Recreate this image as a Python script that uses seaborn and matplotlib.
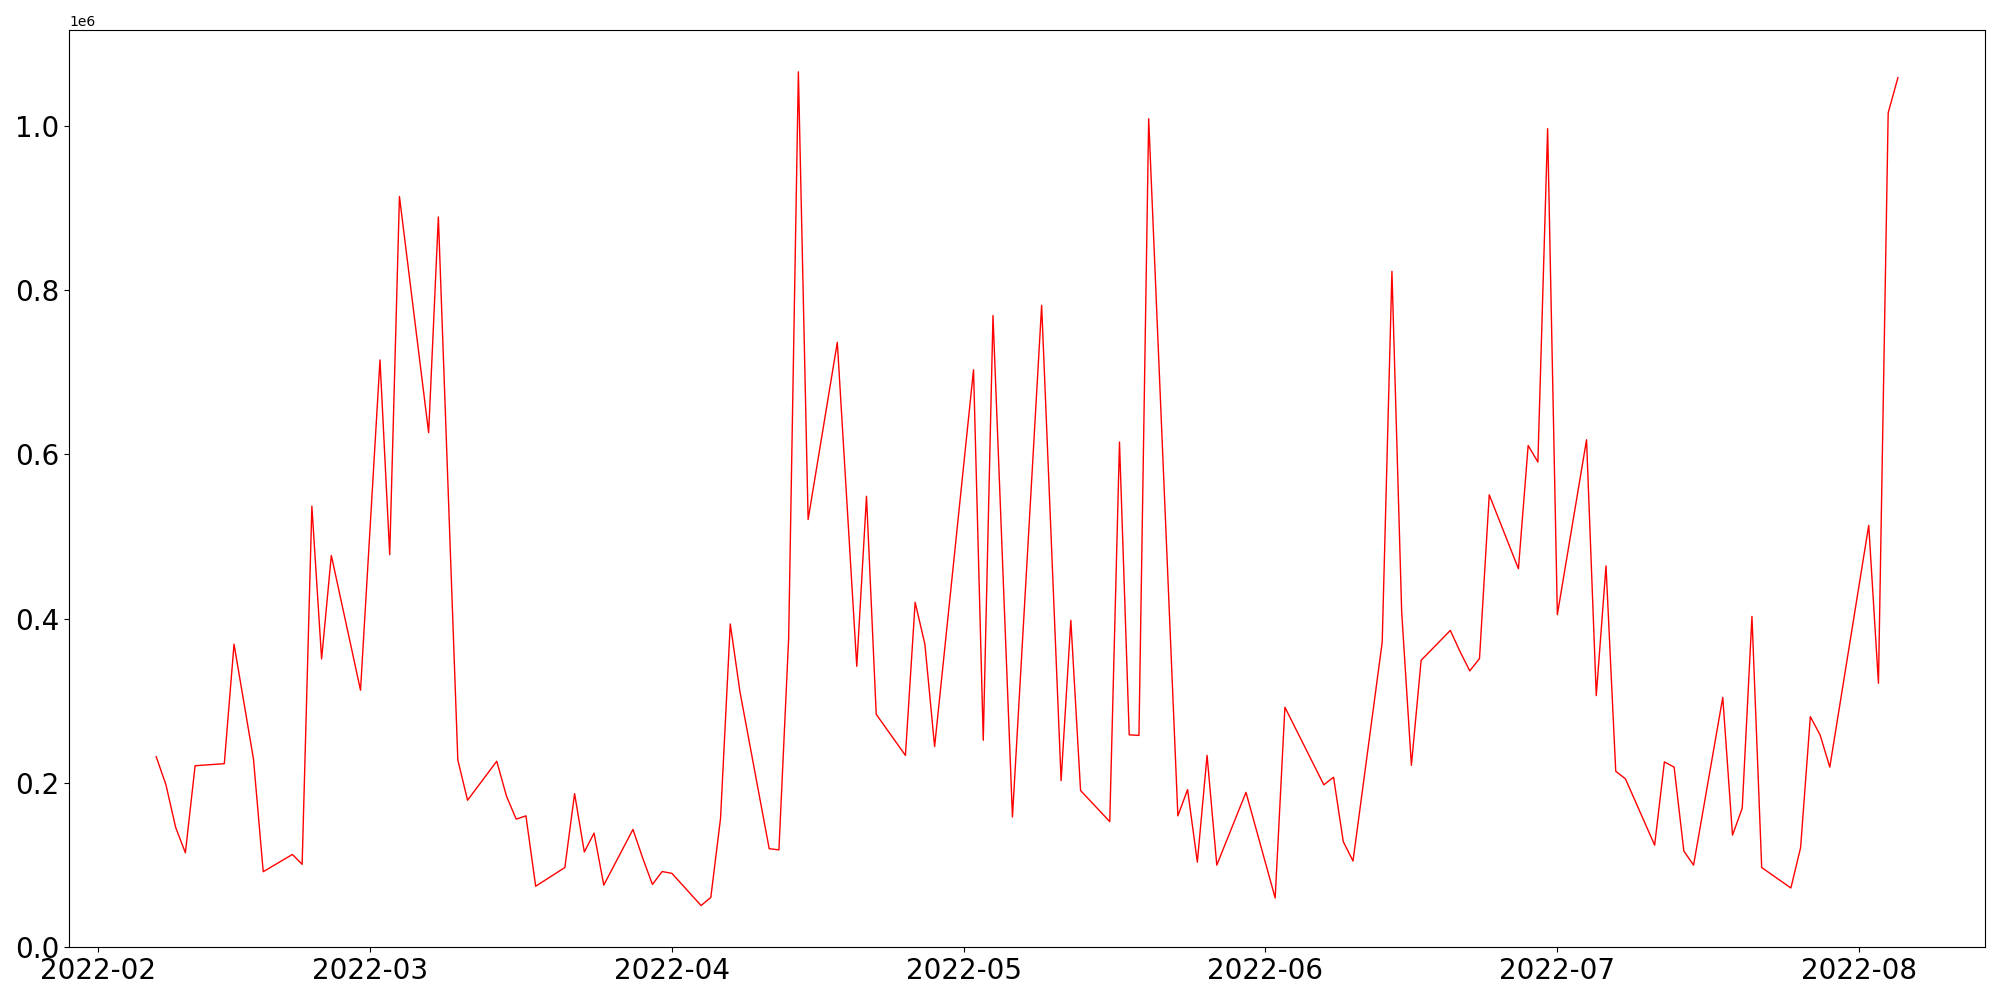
import numpy as np
import pandas as pd
import matplotlib
matplotlib.use("Agg")
import matplotlib.pyplot as plt
import seaborn as sns

# trading days and values (millions)
dates = [
    "2022-02-07", "2022-02-08", "2022-02-09", "2022-02-10", "2022-02-11",
    "2022-02-14", "2022-02-15", "2022-02-17", "2022-02-18",
    "2022-02-21", "2022-02-22", "2022-02-23", "2022-02-24", "2022-02-25",
    "2022-02-28", "2022-03-02", "2022-03-03", "2022-03-04",
    "2022-03-07", "2022-03-08", "2022-03-10", "2022-03-11",
    "2022-03-14", "2022-03-15", "2022-03-16", "2022-03-17", "2022-03-18",
    "2022-03-21", "2022-03-22", "2022-03-23", "2022-03-24", "2022-03-25",
    "2022-03-28", "2022-03-29", "2022-03-30", "2022-03-31", "2022-04-01",
    "2022-04-04", "2022-04-05", "2022-04-06", "2022-04-07", "2022-04-08",
    "2022-04-11", "2022-04-12", "2022-04-13", "2022-04-14", "2022-04-15",
    "2022-04-18", "2022-04-20", "2022-04-21", "2022-04-22",
    "2022-04-25", "2022-04-26", "2022-04-27", "2022-04-28",
    "2022-05-02", "2022-05-03", "2022-05-04", "2022-05-06",
    "2022-05-09", "2022-05-11", "2022-05-12", "2022-05-13",
    "2022-05-16", "2022-05-17", "2022-05-18", "2022-05-19", "2022-05-20",
    "2022-05-23", "2022-05-24", "2022-05-25", "2022-05-26", "2022-05-27",
    "2022-05-30", "2022-06-02", "2022-06-03",
    "2022-06-07", "2022-06-08", "2022-06-09", "2022-06-10",
    "2022-06-13", "2022-06-14", "2022-06-15", "2022-06-16", "2022-06-17",
    "2022-06-20", "2022-06-21", "2022-06-22", "2022-06-23", "2022-06-24",
    "2022-06-27", "2022-06-28", "2022-06-29", "2022-06-30", "2022-07-01",
    "2022-07-04", "2022-07-05", "2022-07-06", "2022-07-07", "2022-07-08",
    "2022-07-11", "2022-07-12", "2022-07-13", "2022-07-14", "2022-07-15",
    "2022-07-18", "2022-07-19", "2022-07-20", "2022-07-21", "2022-07-22",
    "2022-07-25", "2022-07-26", "2022-07-27", "2022-07-28", "2022-07-29",
    "2022-08-02", "2022-08-03", "2022-08-04", "2022-08-05",
]
values_m = [
    0.232, 0.198, 0.146, 0.115, 0.221,
    0.2235, 0.369, 0.229, 0.092,
    0.113, 0.101, 0.537, 0.351, 0.477,
    0.313, 0.715, 0.478, 0.914,
    0.6265, 0.889, 0.228, 0.179,
    0.2265, 0.184, 0.156, 0.160, 0.0743,
    0.0971, 0.187, 0.116, 0.139, 0.0757,
    0.1435, 0.1086, 0.0765, 0.0922, 0.090,
    0.0508, 0.0607, 0.157, 0.3936, 0.3107,
    0.120, 0.1186, 0.3764, 1.0657, 0.5207,
    0.7364, 0.342, 0.549, 0.2836,
    0.2336, 0.420, 0.369, 0.2443,
    0.703, 0.252, 0.769, 0.1586,
    0.7815, 0.2028, 0.398, 0.1908,
    0.153, 0.615, 0.2586, 0.2579, 1.0086,
    0.160, 0.192, 0.1036, 0.2336, 0.100,
    0.1886, 0.060, 0.2922,
    0.1978, 0.207, 0.1286, 0.105,
    0.3714, 0.8229, 0.4086, 0.2215, 0.3493,
    0.3857, 0.360, 0.3365, 0.3515, 0.5508,
    0.4608, 0.6108, 0.5907, 0.9965, 0.405,
    0.6178, 0.3064, 0.4643, 0.2143, 0.205,
    0.1243, 0.2257, 0.2193, 0.1171, 0.100,
    0.3042, 0.1365, 0.1693, 0.4028, 0.0971,
    0.0722, 0.1214, 0.2807, 0.2586, 0.2193,
    0.5136, 0.3214, 1.0158, 1.0587,
]

df = pd.DataFrame({
    "date": pd.to_datetime(dates),
    "value": np.array(values_m) * 1e6,
})

fig, ax = plt.subplots(figsize=(20, 10), dpi=100)
sns.lineplot(data=df, x="date", y="value", color="red", linewidth=1.0, ax=ax)
ax.set_xlabel("")
ax.set_ylabel("")
ax.set_ylim(bottom=0)
ax.tick_params(axis="both", labelsize=20)
plt.tight_layout()
fig.savefig("out.png", dpi=100)
plt.close()
